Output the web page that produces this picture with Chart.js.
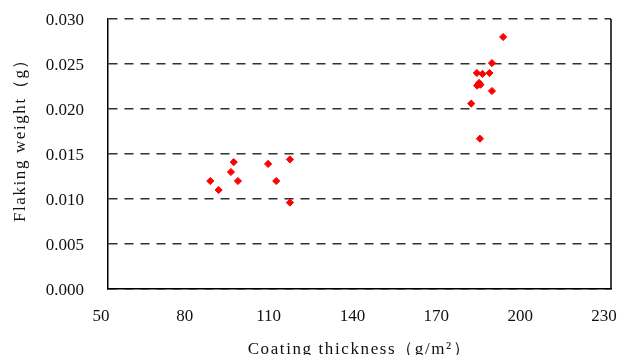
<!DOCTYPE html>
<html>
<head>
<meta charset="utf-8">
<script src="https://cdn.jsdelivr.net/npm/chart.js@4/dist/chart.umd.min.js"></script>
<style>
  html, body { margin: 0; padding: 0; background: #ffffff; }
  canvas { display: block; }
</style>
</head>
<body>
<canvas id="chart" width="620" height="355"></canvas>
<script>
// Coating thickness (g/m²) of each sample
const thickness = [86.6, 89.6, 94.0, 95.0, 96.5, 107.3, 110.2, 115.1, 115.1,
                   180.0, 182.0, 182.1, 182.8, 183.3, 183.1, 184.0, 186.5, 187.4, 187.4, 191.4];
// Flaking weight (g) of each sample
const flakingWeight = [0.0120, 0.0110, 0.0130, 0.0141, 0.0120, 0.0139, 0.0120, 0.0144, 0.0096,
                       0.0206, 0.0240, 0.0226, 0.0229, 0.0227, 0.0167, 0.0239, 0.0240, 0.0251, 0.0220, 0.0280];

// Axis ranges and tick steps
const xRange = [50, 230];
const xStep = 30;
const yRange = [0, 0.030];
const yStep = 0.005;

const xTitle = 'Coating thickness（g/m²）';
const yTitle = 'Flaking weight（g）';

const FONT = '"Liberation Serif", "DejaVu Serif", serif';

const points = thickness.map((t, i) => ({ x: t, y: flakingWeight[i] }));

// Frame line on the right and the two axis titles
const framePlugin = {
  id: 'frameAndTitles',
  afterDraw(chart) {
    const { ctx, chartArea: a } = chart;
    ctx.save();
    ctx.strokeStyle = '#000';
    ctx.lineWidth = 1.5;
    ctx.beginPath();
    ctx.moveTo(a.right, a.top);
    ctx.lineTo(a.right, a.bottom);
    ctx.stroke();

    ctx.fillStyle = '#111';
    ctx.font = '17px ' + FONT;
    ctx.letterSpacing = '1.6px';
    ctx.textAlign = 'center';
    ctx.textBaseline = 'alphabetic';
    ctx.fillText(xTitle, (a.left + a.right) / 2, chart.height - 1);

    ctx.translate(21, a.top + 117);
    ctx.rotate(-Math.PI / 2);
    ctx.textBaseline = 'middle';
    ctx.fillText(yTitle, 0, 0);
    ctx.restore();
  }
};

new Chart(document.getElementById('chart'), {
  type: 'scatter',
  data: {
    datasets: [{
      data: points,
      pointStyle: 'rectRot',
      pointRadius: 3.6,
      pointBorderWidth: 1,
      backgroundColor: '#ff0000',
      borderColor: '#ff0000'
    }]
  },
  options: {
    responsive: false,
    animation: false,
    devicePixelRatio: 1,
    layout: { padding: { top: 19, right: 9, left: 0, bottom: 0 } },
    plugins: { legend: { display: false }, tooltip: { enabled: false } },
    scales: {
      x: {
        type: 'linear',
        min: xRange[0],
        max: xRange[1],
        grid: { display: false, drawTicks: false },
        border: { display: true, color: '#000', width: 1.5 },
        ticks: {
          stepSize: xStep,
          padding: 17,
          labelOffset: -7,
          color: '#111',
          font: { family: FONT, size: 17 },
          maxRotation: 0
        },
        afterFit(scale) {
          scale.height = 66;
          scale.paddingLeft = 0;
          scale.paddingRight = 0;
        }
      },
      y: {
        type: 'linear',
        min: yRange[0],
        max: yRange[1],
        grid: { color: '#333', lineWidth: 1.4, drawTicks: false },
        border: { display: true, color: '#000', width: 1.5, dash: [9, 7] },
        ticks: {
          stepSize: yStep,
          padding: 24,
          labelOffset: 2,
          color: '#111',
          font: { family: FONT, size: 17 },
          callback: v => v.toFixed(3)
        },
        afterFit(scale) {
          scale.width = 108;
          scale.paddingTop = 0;
          scale.paddingBottom = 0;
        }
      }
    }
  },
  plugins: [framePlugin]
});
</script>
</body>
</html>
